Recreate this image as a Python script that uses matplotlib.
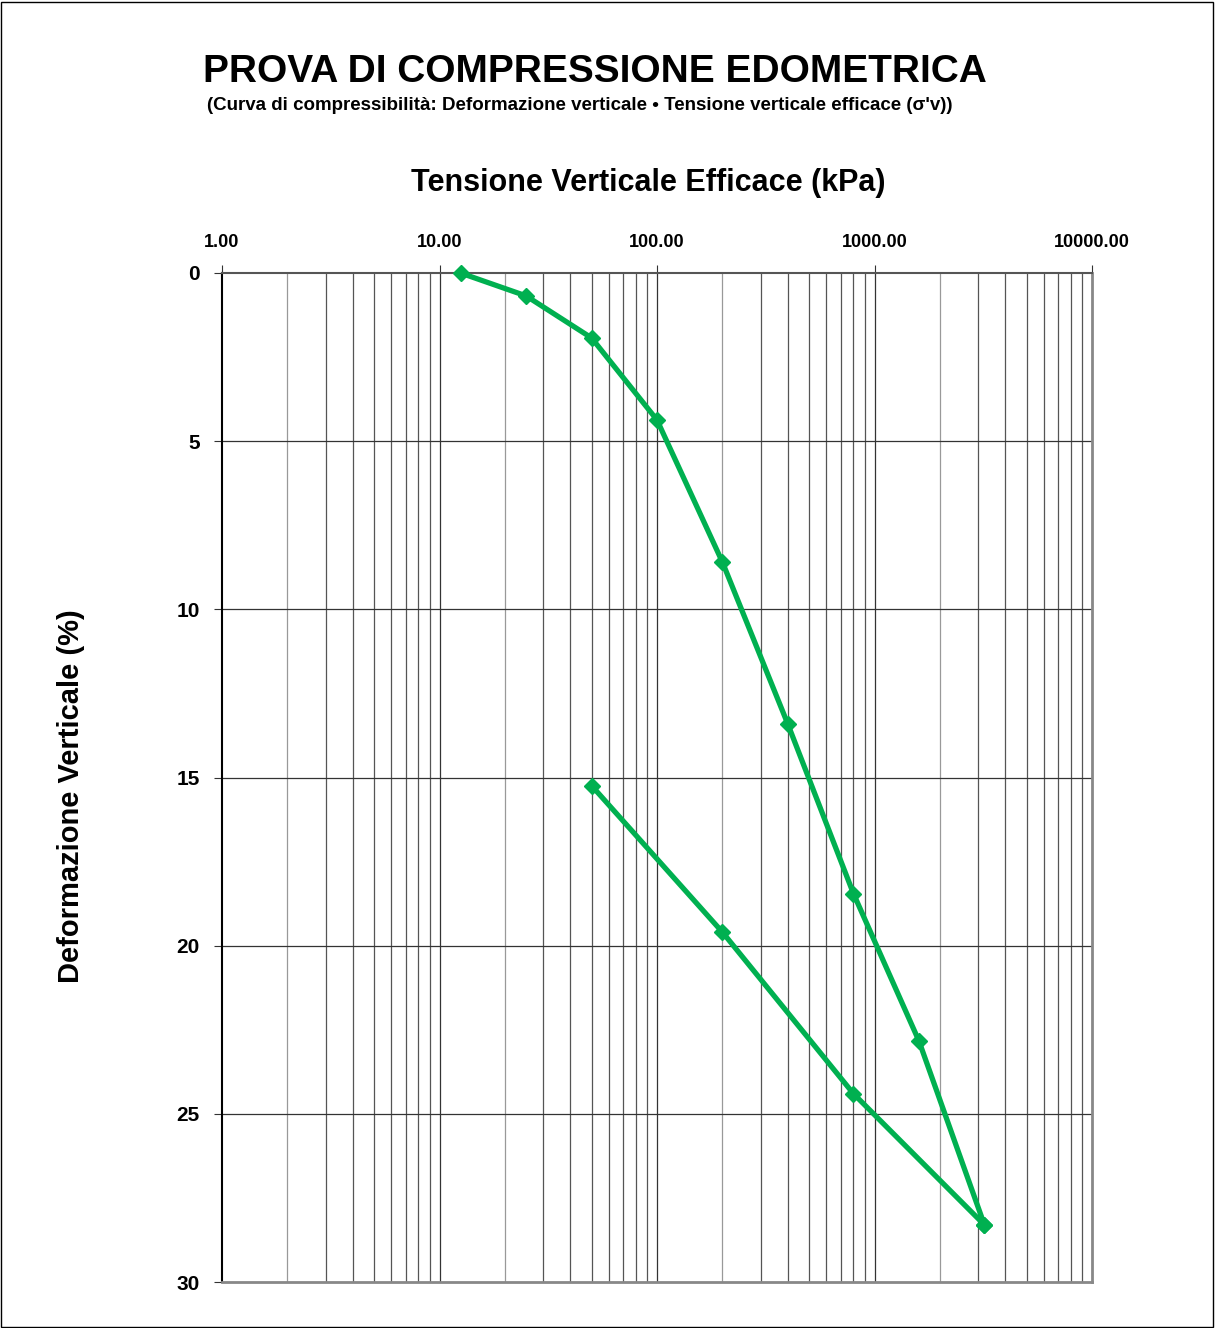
import numpy as np
import matplotlib.pyplot as plt
from matplotlib.ticker import FixedLocator, FixedFormatter, NullFormatter
from matplotlib.patches import Rectangle

# dati della prova (tensione kPa, deformazione %)
carico_sigma = [12.5, 25, 50, 100, 200, 400, 800, 1600, 3200]
carico_def = [0.0, 0.68, 1.93, 4.37, 8.6, 13.42, 18.45, 22.83, 28.3]
scarico_sigma = [3200, 800, 200, 50]
scarico_def = [28.3, 24.4, 19.6, 15.24]

xtick_vals = [1, 10, 100, 1000, 10000]
xtick_labels = ["1.00", "10.00", "100.00", "1000.00", "10000.00"]
ytick_vals = [0, 5, 10, 15, 20, 25, 30]

green = "#00B050"
plt.rcParams['font.family'] = ['Liberation Sans', 'DejaVu Sans']

fig = plt.figure(figsize=(12.15, 13.28), dpi=100)
W, H = 1215, 1328
ax = fig.add_axes([222 / W, 1 - 1282 / H, (1092 - 222) / W, (1282 - 273) / H])

ax.set_xscale('log')
ax.set_xlim(1, 10000)
ax.set_ylim(30, 0)

# griglia
minor = [m * 10 ** d for d in range(4) for m in range(2, 10)]
for v in minor:
    ax.axvline(v, color='#999999' if v / 10 ** int(np.log10(v)) < 3 else '#555555', lw=0.9, zorder=1)
for v in xtick_vals[1:-1]:
    ax.axvline(v, color='#333333', lw=0.9, zorder=1)
for v in ytick_vals[1:-1]:
    ax.axhline(v, color='#333333', lw=0.9, zorder=1)

ax.plot(carico_sigma, carico_def, color=green, lw=3.8, marker='D', ms=8, zorder=3, clip_on=False)
ax.plot(scarico_sigma, scarico_def, color=green, lw=3.8, marker='D', ms=8, zorder=3, clip_on=False)

ax.xaxis.set_major_locator(FixedLocator(xtick_vals))
ax.xaxis.set_major_formatter(FixedFormatter(xtick_labels))
ax.xaxis.set_minor_formatter(NullFormatter())
ax.tick_params(axis='x', which='minor', length=0)
ax.xaxis.tick_top()
ax.tick_params(axis='x', which='major', direction='out', length=6, width=0.8,
               color='#333333', labelsize=13, pad=10)
ax.set_yticks(ytick_vals)
ax.tick_params(axis='y', direction='out', length=6, width=0.8, color='#333333',
               labelsize=15, pad=10)
for lab in ax.get_xticklabels() + ax.get_yticklabels():
    lab.set_fontweight('bold')

ax.spines['left'].set_color('black')
ax.spines['left'].set_linewidth(1.5)
ax.spines['top'].set_color('#555555')
ax.spines['top'].set_linewidth(1.5)
ax.spines['bottom'].set_color('#888888')
ax.spines['bottom'].set_linewidth(2)
ax.spines['right'].set_color('#888888')
ax.spines['right'].set_linewidth(2)

fig.text(595 / W, 1 - 72 / H, "PROVA DI COMPRESSIONE EDOMETRICA", ha='center', va='center',
         fontsize=28, fontweight='bold')
fig.text(580 / W, 1 - 105 / H,
         "(Curva di compressibilità: Deformazione verticale • Tensione verticale efficace (σ'v))",
         ha='center', va='center', fontsize=13.5, fontweight='bold',
         family=['Liberation Sans Narrow', 'Liberation Sans', 'DejaVu Sans'])
fig.text(648 / W, 1 - 183 / H, "Tensione Verticale Efficace (kPa)", ha='center', va='center',
         fontsize=22, fontweight='bold')
fig.text(71 / W, 1 - 796 / H, "Deformazione Verticale (%)", ha='center', va='center',
         fontsize=21, fontweight='bold', rotation=90)

fig.patches.append(Rectangle((1 / W, 1 / H), 1 - 3 / W, 1 - 3 / H, transform=fig.transFigure,
                             fill=False, edgecolor='black', lw=1))

fig.savefig("out.png", dpi=100)
